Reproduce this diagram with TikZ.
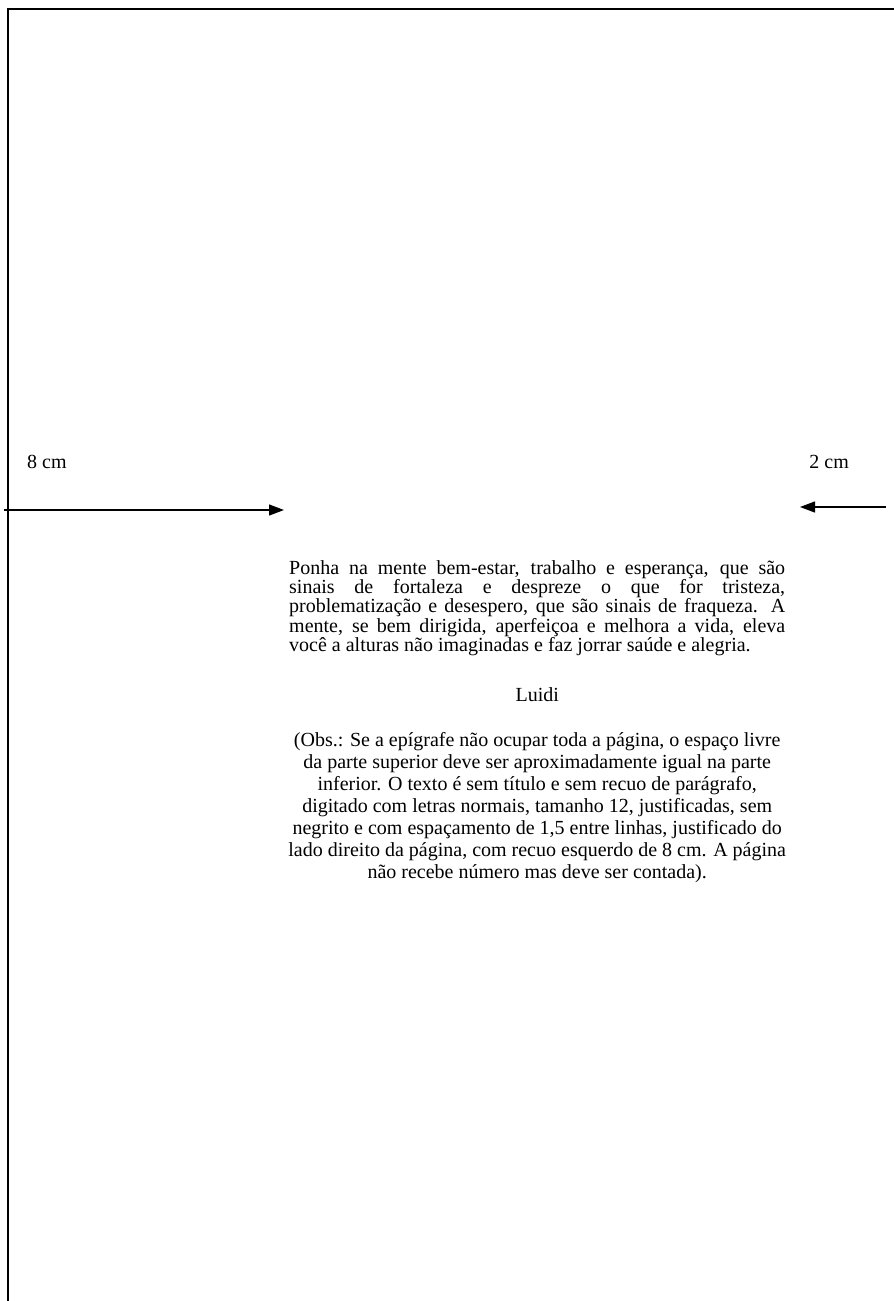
\documentclass[tikz,border=0pt]{standalone}
\usepackage{fontspec}
\setmainfont{Liberation Serif}
\usetikzlibrary{positioning,arrows.meta}

\begin{document}
\begin{tikzpicture}[
        x=1pt, y=-1pt,
        every node/.style={font=\fontsize{20}{22}\selectfont},
        edge/.style={
                draw=black,
                line width=1.3pt
            },
        measure/.style={
                inner sep=0pt
            },
        epigraph/.style={
                text width=496pt,
                align=justify,
                inner sep=0pt,
                font=\fontsize{20}{19.4}\selectfont
            },
        note/.style={
                align=center,
                inner sep=0pt
            },
        >={Triangle[length=15pt,width=11pt]}
    ]
    \useasboundingbox (0,0) rectangle (894,1301);
    % page edges
    \draw[edge] (8,1301) -- (8,9) -- (894,9);

    \node[measure, anchor=west] (left)  at (27,462)  {8 cm};
    \node[measure, anchor=east] (right) at (849,462) {2 cm};

    \coordinate (leftstart)  at (4,510);
    \coordinate (leftend)    at (284,510);
    \coordinate (rightstart) at (886,507);
    \coordinate (rightend)   at (800,507);

    \node[epigraph, anchor=north west] (epigraph) at (289,560) {\hyphenpenalty=10000 \lineskiplimit=-20pt
        Ponha na mente bem-estar, trabalho e esperança, que são\linebreak
        sinais de fortaleza e despreze o que for tristeza,\linebreak
        problematização e desespero, que são sinais de fraqueza. A\linebreak
        mente, se bem dirigida, aperfeiçoa e melhora a vida, eleva\linebreak
        você a alturas não imaginadas e faz jorrar saúde e alegria.};
    \node[note] (author) [below=31pt of epigraph] {Luidi};
    \node[note] (obs) [below=31pt of author] {(Obs.: Se a epígrafe não ocupar toda a página, o espaço livre\\
        da parte superior deve ser aproximadamente igual na parte\\
        inferior. O texto é sem título e sem recuo de parágrafo,\\
        digitado com letras normais, tamanho 12, justificadas, sem\\
        negrito e com espaçamento de 1,5 entre linhas, justificado do\\
        lado direito da página, com recuo esquerdo de 8 cm. A página\\
        não recebe número mas deve ser contada).};

    \draw[edge, ->] (leftstart) -- (leftend);
    \draw[edge, ->] (rightstart) -- (rightend);
\end{tikzpicture}
\end{document}
